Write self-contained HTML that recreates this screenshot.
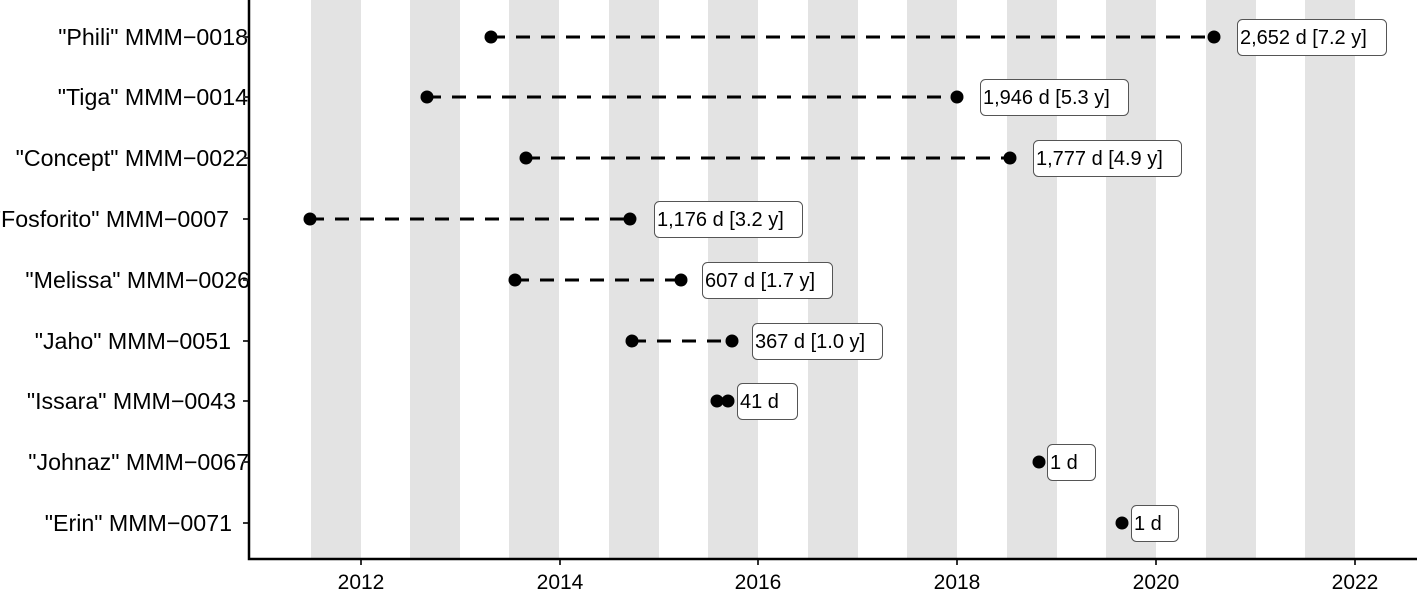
<!DOCTYPE html>
<html><head><style>body{margin:0;background:#fff}svg{display:block}</style></head><body>
<svg width="1417" height="594" xmlns="http://www.w3.org/2000/svg" font-family="Liberation Sans, sans-serif">
<g fill="#e3e3e3">
<rect x="311" y="0" width="50" height="558"/><rect x="410" y="0" width="50" height="558"/>
<rect x="509" y="0" width="50" height="558"/><rect x="609" y="0" width="50" height="558"/>
<rect x="708" y="0" width="50" height="558"/><rect x="808" y="0" width="50" height="558"/>
<rect x="907" y="0" width="50" height="558"/><rect x="1007" y="0" width="50" height="558"/>
<rect x="1106" y="0" width="50" height="558"/><rect x="1206" y="0" width="50" height="558"/>
<rect x="1305" y="0" width="50" height="558"/>
</g>
<g stroke="#000" stroke-width="3" stroke-dasharray="14,11">
<line x1="491" y1="37" x2="1214" y2="37"/>
<line x1="427" y1="97" x2="957" y2="97"/>
<line x1="526" y1="158" x2="1010" y2="158"/>
<line x1="310" y1="219" x2="630" y2="219"/>
<line x1="515" y1="280" x2="681" y2="280"/>
<line x1="632" y1="341" x2="732" y2="341"/>
</g>
<g fill="#000">
<circle cx="491" cy="37" r="6.5"/><circle cx="1214" cy="37" r="6.5"/>
<circle cx="427" cy="97" r="6.5"/><circle cx="957" cy="97" r="6.5"/>
<circle cx="526" cy="158" r="6.5"/><circle cx="1010" cy="158" r="6.5"/>
<circle cx="310" cy="219" r="6.5"/><circle cx="630" cy="219" r="6.5"/>
<circle cx="515" cy="280" r="6.5"/><circle cx="681" cy="280" r="6.5"/>
<circle cx="632" cy="341" r="6.5"/><circle cx="732" cy="341" r="6.5"/>
<circle cx="717" cy="401" r="6.5"/><circle cx="728" cy="401" r="6.5"/>
<circle cx="1039" cy="462" r="6.5"/>
<circle cx="1122" cy="523" r="6.5"/>
</g>
<g fill="#fff" stroke="#555" stroke-width="1">
<rect x="1237.5" y="19.5" width="149" height="36" rx="5"/>
<rect x="980.5" y="79.5" width="148" height="36" rx="5"/>
<rect x="1033.5" y="140.5" width="148" height="36" rx="5"/>
<rect x="654.5" y="201.5" width="148" height="36" rx="5"/>
<rect x="702.5" y="262.5" width="130" height="36" rx="5"/>
<rect x="752.5" y="323.5" width="130" height="36" rx="5"/>
<rect x="737.5" y="383.5" width="60" height="36" rx="5"/>
<rect x="1047.5" y="444.5" width="48" height="36" rx="5"/>
<rect x="1131.5" y="505.5" width="47" height="36" rx="5"/>
</g>
<g font-size="20" fill="#000">
<text x="1240" y="44">2,652 d [7.2 y]</text>
<text x="983" y="104">1,946 d [5.3 y]</text>
<text x="1036" y="165">1,777 d [4.9 y]</text>
<text x="657" y="226">1,176 d [3.2 y]</text>
<text x="705" y="287">607 d [1.7 y]</text>
<text x="755" y="348">367 d [1.0 y]</text>
<text x="740" y="408">41 d</text>
<text x="1050" y="469">1 d</text>
<text x="1134" y="530">1 d</text>
</g>
<g font-size="23.2" fill="#000" text-anchor="end">
<text x="248" y="45">"Phili" MMM−0018</text>
<text x="248" y="105">"Tiga" MMM−0014</text>
<text x="248" y="166">"Concept" MMM−0022</text>
<text x="229" y="227">"Fosforito" MMM−0007</text>
<text x="250" y="288">"Melissa" MMM−0026</text>
<text x="231" y="349">"Jaho" MMM−0051</text>
<text x="236" y="409">"Issara" MMM−0043</text>
<text x="249" y="470">"Johnaz" MMM−0067</text>
<text x="232" y="531">"Erin" MMM−0071</text>
</g>
<g stroke="#333" stroke-width="2">
<line x1="243" y1="37" x2="249" y2="37"/><line x1="243" y1="97" x2="249" y2="97"/>
<line x1="243" y1="158" x2="249" y2="158"/><line x1="243" y1="219" x2="249" y2="219"/>
<line x1="243" y1="280" x2="249" y2="280"/><line x1="243" y1="341" x2="249" y2="341"/>
<line x1="243" y1="401" x2="249" y2="401"/><line x1="243" y1="462" x2="249" y2="462"/>
<line x1="243" y1="523" x2="249" y2="523"/>
<line x1="361" y1="559" x2="361" y2="565"/><line x1="560" y1="559" x2="560" y2="565"/>
<line x1="758" y1="559" x2="758" y2="565"/><line x1="957" y1="559" x2="957" y2="565"/>
<line x1="1156" y1="559" x2="1156" y2="565"/><line x1="1355" y1="559" x2="1355" y2="565"/>
</g>
<g stroke="#000" stroke-width="2.5" fill="none">
<polyline points="249,0 249,559 1417,559"/>
</g>
<g font-size="21" fill="#000" text-anchor="middle">
<text x="361" y="589">2012</text><text x="560" y="589">2014</text>
<text x="758" y="589">2016</text><text x="957" y="589">2018</text>
<text x="1156" y="589">2020</text><text x="1355" y="589">2022</text>
</g>
</svg>
</body></html>
